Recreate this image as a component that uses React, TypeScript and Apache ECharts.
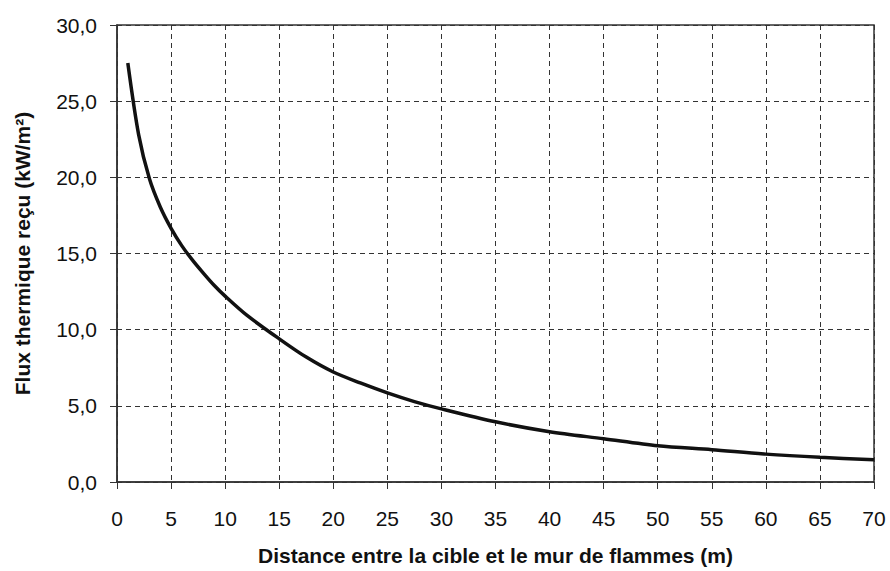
import React, { useEffect, useRef } from "react";
import * as echarts from "echarts";

const distances = [1, 2, 3, 4, 5, 6, 7, 8, 9, 10, 12, 15, 17.5, 20, 22.5, 25, 27.5, 30, 35, 40, 45, 50, 55, 60, 65, 70];
const flux = [27.5, 22.8, 19.9, 18.05, 16.65, 15.5, 14.55, 13.7, 12.9, 12.2, 10.95, 9.4, 8.2, 7.22, 6.5, 5.85, 5.28, 4.8, 3.95, 3.3, 2.84, 2.38, 2.12, 1.83, 1.62, 1.46];
const xTitle = "Distance entre la cible et le mur de flammes (m)";
const yTitle = "Flux thermique reçu (kW/m²)";

export default function App() {
  const ref = useRef<HTMLDivElement>(null);
  useEffect(() => {
    document.body.style.margin = "0";
    if (!ref.current) return;
    const chart = echarts.init(ref.current, null, { renderer: "svg" });
    const font = "Liberation Sans, Arial, sans-serif";
    chart.setOption({
      animation: false,
      backgroundColor: "#ffffff",
      grid: {
        left: 117,
        top: 25,
        right: 16,
        bottom: 88,
        show: true,
        borderColor: "#333",
        borderWidth: 1.5,
        containLabel: false,
      },
      xAxis: {
        type: "value",
        min: 0,
        max: 70,
        interval: 5,
        name: xTitle,
        nameLocation: "middle",
        nameGap: 63,
        nameTextStyle: { fontFamily: font, fontSize: 21, fontWeight: "bold", color: "#111" },
        axisLine: { show: true, lineStyle: { color: "#333", width: 1.5 } },
        axisTick: { show: true, length: 7, lineStyle: { color: "#333" } },
        axisLabel: { fontFamily: font, fontSize: 21, color: "#111", margin: 26 },
        splitLine: { show: true, lineStyle: { color: "#333", type: [5, 4], width: 1 } },
      },
      yAxis: {
        type: "value",
        min: 0,
        max: 30,
        interval: 5,
        name: yTitle,
        nameLocation: "middle",
        nameGap: 84,
        nameRotate: 90,
        nameTextStyle: { fontFamily: font, fontSize: 21, fontWeight: "bold", color: "#111" },
        axisLine: { show: true, lineStyle: { color: "#333", width: 1.5 } },
        axisTick: { show: true, length: 7, lineStyle: { color: "#333" } },
        axisLabel: {
          fontFamily: font,
          fontSize: 21,
          color: "#111",
          margin: 20,
          formatter: (v: number) => v.toFixed(1).replace(".", ","),
        },
        splitLine: { show: true, lineStyle: { color: "#333", type: [5, 4], width: 1 } },
      },
      series: [
        {
          type: "line",
          data: distances.map((d, i) => [d, flux[i]]),
          showSymbol: false,
          smooth: 0.3,
          lineStyle: { color: "#111", width: 3.5 },
        },
      ],
    });
    return () => chart.dispose();
  }, []);
  return <div ref={ref} style={{ width: 890, height: 571 }} />;
}
